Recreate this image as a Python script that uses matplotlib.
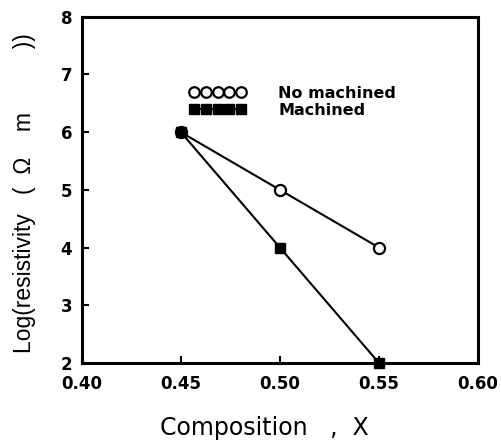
import numpy as np
import matplotlib
matplotlib.use('Agg')
import matplotlib.pyplot as plt

plt.rcParams['font.family'] = ['DejaVu Sans']

# Data
x = [0.45, 0.50, 0.55]
no_machined = [6, 5, 4]
machined = [6, 4, 2]
xticks = [0.40, 0.45, 0.50, 0.55, 0.60]
xtick_labels = ['0.40', '0.45', '0.50', '0.55', '0.60']
yticks = [2, 3, 4, 5, 6, 7, 8]

fig = plt.figure(figsize=(5.02, 4.42), dpi=100)
ax = fig.add_axes([0.163, 0.179, 0.789, 0.783])

ax.plot(x, no_machined, color='black', lw=1.5, marker='o', ms=8,
        mfc='white', mec='black', mew=1.6, label='No machined', clip_on=False)
ax.plot(x, machined, color='black', lw=1.5, marker='s', ms=7.5,
        mfc='black', mec='black', label='Machined', clip_on=False, zorder=3)

ax.set_xlim(0.40, 0.60)
ax.set_ylim(2, 8)
ax.set_xticks(xticks)
ax.set_xticklabels(xtick_labels)
ax.set_yticks(yticks)

for s in ax.spines.values():
    s.set_linewidth(2.2)
ax.tick_params(direction='in', length=5, width=1.5, labelsize=12)
ax.tick_params(axis='x', pad=9)
ax.tick_params(axis='y', pad=7)
for lab in ax.get_xticklabels() + ax.get_yticklabels():
    lab.set_fontweight('bold')

ax.set_xlabel('Composition   ,  X', fontsize=17)
ax.xaxis.set_label_coords(0.46, -0.153)
ax.set_ylabel('Log(resistivity   (  \u03a9    m          ))', fontsize=16.5,
              family='Liberation Sans')
ax.yaxis.label.set_va('center')
ax.yaxis.set_label_coords(-0.144, 0.49)

ax.legend(loc='upper left', bbox_to_anchor=(0.27, 0.80), frameon=False,
          numpoints=5, handlelength=3.6, borderpad=0, borderaxespad=0,
          markerscale=0.95, prop={'weight': 'bold', 'size': 11.5},
          labelspacing=0.12, handletextpad=2.0)

fig.savefig('out.png', dpi=100)
